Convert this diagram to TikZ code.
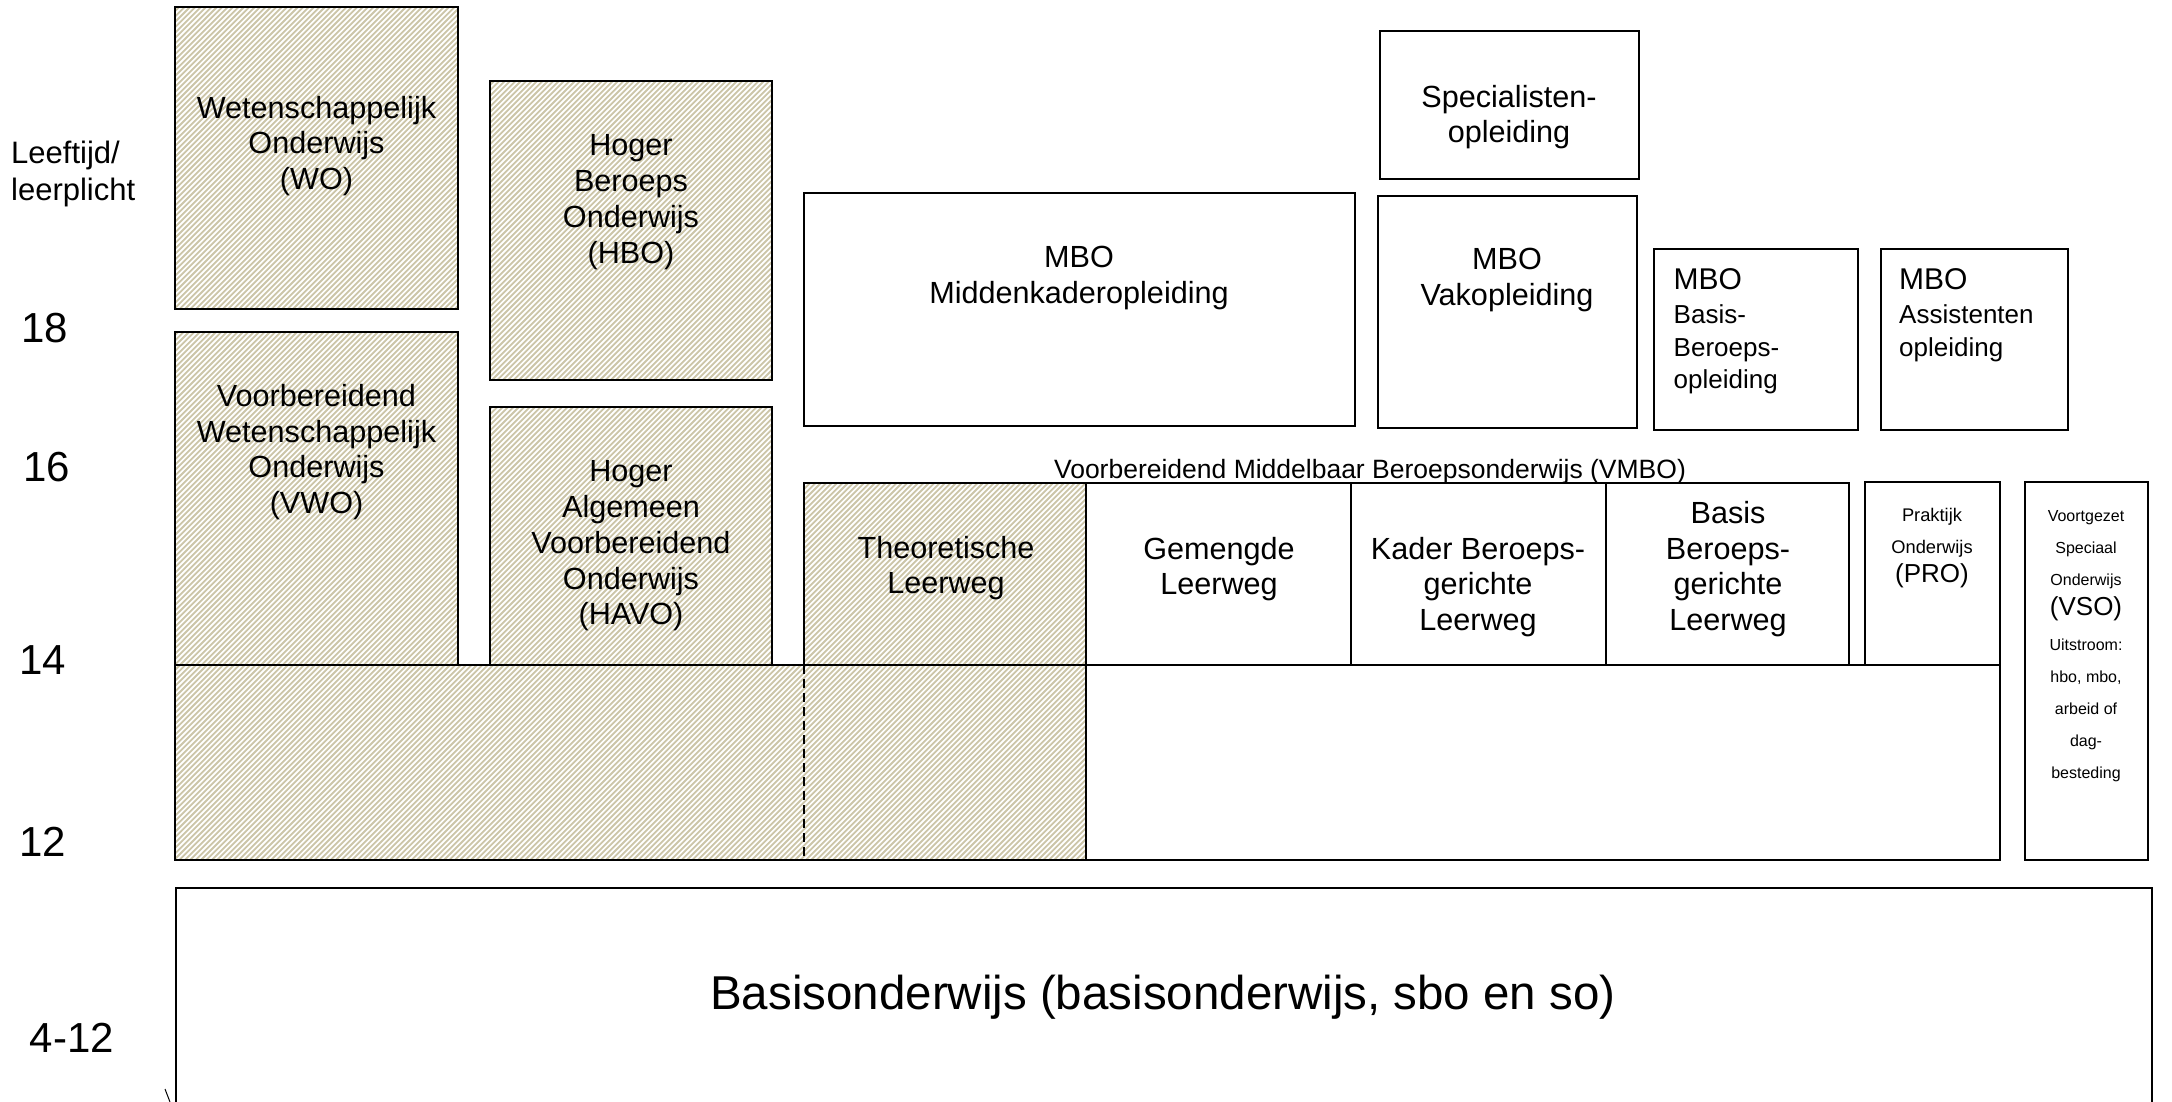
\documentclass[tikz,border=0pt]{standalone}
\usepackage{fontspec}
\setmainfont{Liberation Sans}
\begin{document}
\begin{tikzpicture}[x=1pt,y=-1pt,
  box/.style={draw=black,line width=2pt},
  hatchline/.style={draw={rgb,255:red,204;green,197;blue,168},line width=1.8pt},
  lbl/.style={font=\fontsize{30.6}{35.8}\selectfont,align=center,inner sep=0pt},
  mbobig/.style={font=\fontsize{30}{34}\selectfont,inner sep=0pt,anchor=base west},
  mbosmall/.style={font=\fontsize{26}{30}\selectfont,inner sep=0pt,anchor=base west},
  prosmall/.style={font=\fontsize{18.3}{22}\selectfont,inner sep=0pt,anchor=base},
  vsosmall/.style={font=\fontsize{16}{19}\selectfont,inner sep=0pt,anchor=base},
  bigpar/.style={font=\fontsize{26}{30}\selectfont,inner sep=0pt,anchor=base},
  age/.style={font=\fontsize{42}{48}\selectfont,inner sep=0pt},
  agetitle/.style={font=\fontsize{31}{36}\selectfont,inner sep=0pt,anchor=base west}]
\useasboundingbox (0,0) rectangle (2172,1102);
\fill[white] (0,0) rectangle (2172,1102);

% hatched areas
\begin{scope}
\clip (175,7.3) rectangle (457.6,309)
      (490,81) rectangle (772,380)
      (175,331.7) rectangle (457.5,665)
      (489.6,407.3) rectangle (771.7,665)
      (804,483.3) rectangle (1086,665)
      (175,665) rectangle (1086,859.5);
\foreach \xx in {-700,-694.6,...,1095} \draw[hatchline] (\xx,870) -- ++(870,-870);
\end{scope}

% boxes
\draw[box] (175,7.3) rectangle (457.6,309);
\draw[box] (490,81) rectangle (772,380);
\draw[box] (175,331.7) rectangle (457.5,665);
\draw[box] (489.6,407.3) rectangle (771.7,665);
\draw[box] (804,193.3) rectangle (1354.5,425.7);
\draw[box] (1379.6,31) rectangle (1638.6,179);
\draw[box] (1378,195.7) rectangle (1636.6,427.5);
\draw[box] (1653.7,248.7) rectangle (1858.3,430);
\draw[box] (1881,248.7) rectangle (2068.4,430);
\draw[box] (804,483.3) rectangle (1848.6,665);
\draw[box] (1350.5,483.3) -- (1350.5,665);
\draw[box] (1606,483.3) -- (1606,665);
\draw[box] (1865,481.7) rectangle (1999.5,665);
\draw[box] (175,665) rectangle (1999.5,859.5);
\draw[box] (1086,483.3) -- (1086,859.5);
\draw[black,line width=1.3pt,dash pattern=on 9pt off 5pt] (804,665) -- (804,859.5);
\draw[box] (2024.6,481.7) rectangle (2148,860);
\draw[box] (176,1103) -- (176,887.7) -- (2151.6,887.7) -- (2151.6,1103);
\draw[black,line width=1pt] (165,1089) -- (170,1102);

% age labels
\node[agetitle] (lt1) at (11,164) {Leeftijd/};
\node[agetitle] (lt2) at (11,201) {leerplicht};
\node[age] (a18) at (45,328) {18};
\node[age] (a16) at (47,467) {16};
\node[age] (a14) at (43,660) {14};
\node[age] (a12) at (43,842) {12};
\node[age] (a412) at (72,1038) {4-12};

% box texts
\node[lbl] (wo) at (316.5,146) {Wetenschappelijk\\Onderwijs\\(WO)};
\node[lbl] (hbo) at (631,202) {Hoger\\Beroeps\\Onderwijs\\(HBO)};
\node[lbl] (vwo) at (316.5,452) {Voorbereidend\\Wetenschappelijk\\Onderwijs\\(VWO)};
\node[lbl] (havo) at (631,546) {Hoger\\Algemeen\\Voorbereidend\\Onderwijs\\(HAVO)};
\node[lbl] (tl) at (946,568) {Theoretische\\Leerweg};
\node[lbl] (gl) at (1219,569) {Gemengde\\Leerweg};
\node[lbl] (kbl) at (1478,587) {Kader Beroeps-\\gerichte\\Leerweg};
\node[lbl] (bbl) at (1728,569) {Basis\\Beroeps-\\gerichte\\Leerweg};
\node[lbl] (mk) at (1079,278) {MBO\\Middenkaderopleiding};
\node[lbl] (spec) at (1509,117) {Specialisten-\\opleiding};
\node[lbl] (vak) at (1507,280) {MBO\\Vakopleiding};
\node[font=\fontsize{26.5}{30}\selectfont,inner sep=0pt] (vmbo) at (1370,472) {Voorbereidend Middelbaar Beroepsonderwijs (VMBO)};

\node[mbobig] (bb1) at (1673.5,289) {MBO};
\node[mbosmall] (bb2) at (1673.5,323.5) {Basis-};
\node[mbosmall] (bb3) at (1673.5,356) {Beroeps-};
\node[mbosmall] (bb4) at (1673.5,388.5) {opleiding};
\node[mbobig] (as1) at (1899,289) {MBO};
\node[mbosmall] (as2) at (1899,323.5) {Assistenten};
\node[mbosmall] (as3) at (1899,356) {opleiding};

\node[prosmall] (pro1) at (1932,521.6) {Praktijk};
\node[prosmall] (pro2) at (1932,553.6) {Onderwijs};
\node[bigpar] (pro3) at (1932,582.7) {(PRO)};

\node[vsosmall] (vso1) at (2086,521.5) {Voortgezet};
\node[vsosmall] (vso2) at (2086,553.5) {Speciaal};
\node[vsosmall] (vso3) at (2086,585.5) {Onderwijs};
\node[bigpar] (vso4) at (2086,615) {(VSO)};
\node[vsosmall] (vso5) at (2086,650) {Uitstroom:};
\node[vsosmall] (vso6) at (2086,682) {hbo, mbo,};
\node[vsosmall] (vso7) at (2086,714) {arbeid of};
\node[vsosmall] (vso8) at (2086,746) {dag-};
\node[vsosmall] (vso9) at (2086,778) {besteding};

\node[font=\fontsize{47.5}{54}\selectfont,inner sep=0pt] (basis) at (1163,997) {Basisonderwijs (basisonderwijs, sbo en so)};
\end{tikzpicture}
\end{document}
